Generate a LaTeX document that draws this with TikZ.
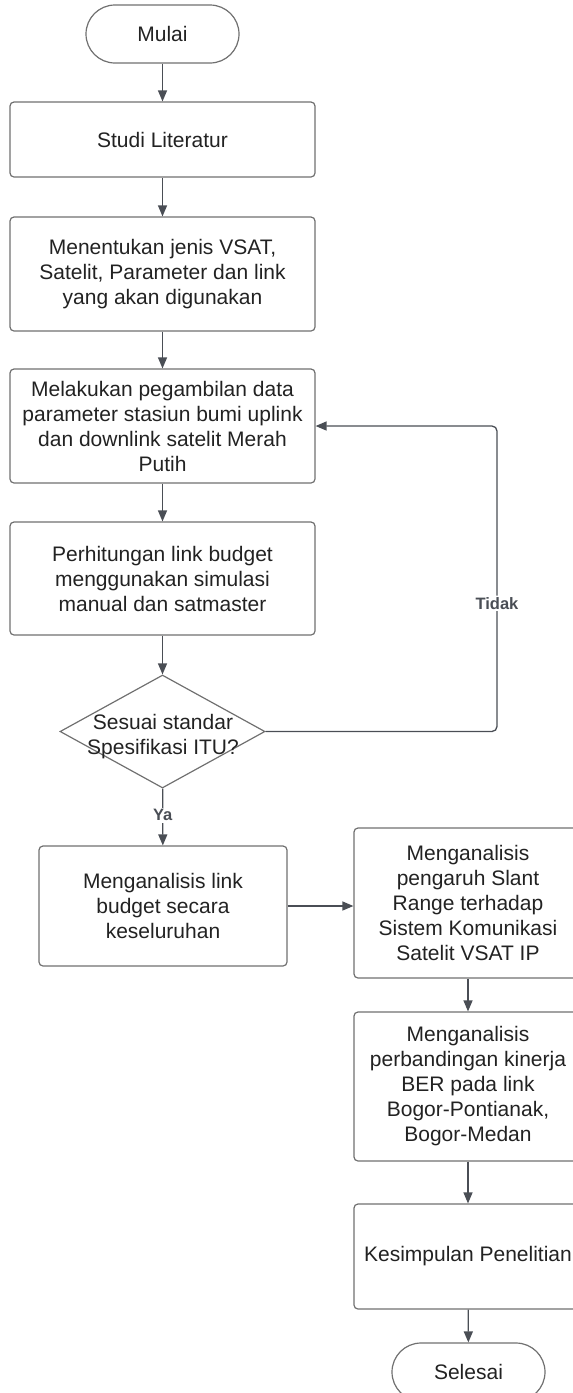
\documentclass[tikz,border=0pt]{standalone}
\usepackage{fontspec}
\setmainfont{Liberation Sans}
\usetikzlibrary{arrows.meta,shapes.geometric}
\definecolor{garis}{HTML}{707070}
\definecolor{panah}{HTML}{4A4E55}
\definecolor{teks}{HTML}{222222}

\begin{document}
\begin{tikzpicture}[x=1pt,y=-1pt,
  kotak/.style={draw=garis, line width=1.2pt, rounded corners=4pt, align=center,
    font=\fontsize{21}{25}\selectfont, text=teks, inner sep=0pt, minimum width=305pt},
  ujung/.style={kotak, rounded corners=29pt, minimum width=153pt, minimum height=58pt},
  putusan/.style={draw=garis, line width=1.2pt, diamond, inner sep=0pt,
    minimum width=205pt, minimum height=113pt},
  alur/.style={draw=panah, line width=1.3pt, -{Triangle[length=11pt,width=9pt]}},
  ket/.style={font=\bfseries\fontsize{16.5}{18}\selectfont, text=panah, fill=white, inner sep=1.5pt}]
\clip (0,0) rectangle (573,1393);

%Draw left column
\node[ujung] (mulai) at (162.5,34) {Mulai};
\node[kotak, minimum height=75pt] (studi) at (162.5,139.5) {Studi Literatur};
\node[kotak, minimum height=114pt] (tentukan) at (162.5,274) {Menentukan jenis VSAT,\\Satelit, Parameter dan link\\yang akan digunakan};
\node[kotak, minimum height=114pt] (ambil) at (162.5,426) {Melakukan pegambilan data\\parameter stasiun bumi uplink\\dan downlink satelit Merah\\Putih};
\node[kotak, minimum height=113pt] (hitung) at (162.5,578.5) {Perhitungan link budget\\menggunakan simulasi\\manual dan satmaster};

%Draw decision
\node[putusan] (cek) at (162.5,731.5) {};
\node[align=center, font=\fontsize{21}{25}\selectfont, text=teks, inner sep=0pt] (cektxt) at (163,737) {Sesuai standar\\Spesifikasi ITU?};
\node[kotak, minimum width=248pt, minimum height=120pt] (analisis) at (163,906) {Menganalisis link\\budget secara\\keseluruhan};

%Draw right column
\node[kotak, minimum width=228pt, minimum height=150pt] (slant) at (468,903) {Menganalisis\\pengaruh Slant\\Range terhadap\\Sistem Komunikasi\\Satelit VSAT IP};
\node[kotak, minimum width=228pt, minimum height=149pt] (ber) at (468,1086.5) {Menganalisis\\perbandingan kinerja\\BER pada link\\Bogor-Pontianak,\\Bogor-Medan};
\node[kotak, minimum width=228pt, minimum height=105pt] (simpul) at (468,1256.5) {Kesimpulan Penelitian};
\node[ujung] (selesai) at (468.5,1372) {Selesai};

%Draw arrows
\draw[alur] (mulai) -- (studi);
\draw[alur] (studi) -- (tentukan);
\draw[alur] (tentukan) -- (ambil);
\draw[alur] (ambil) -- (hitung);
\draw[alur] (hitung) -- (cek);
\draw[alur] (cek) -- node[ket, pos=0.47]{Ya} (analisis);
\draw[alur] (analisis.east) -- (analisis.east -| slant.west);
\draw[alur] (slant) -- (ber);
\draw[alur] (ber) -- (simpul);
\draw[alur] (simpul) -- (selesai);

%Draw loop back
\coordinate (balik) at (497,426);
\draw[alur, rounded corners=5pt] (cek.east) -- (cek.east -| balik) -- node[ket, pos=0.42]{Tidak} (balik) -- (ambil.east);
\end{tikzpicture}
\end{document}
